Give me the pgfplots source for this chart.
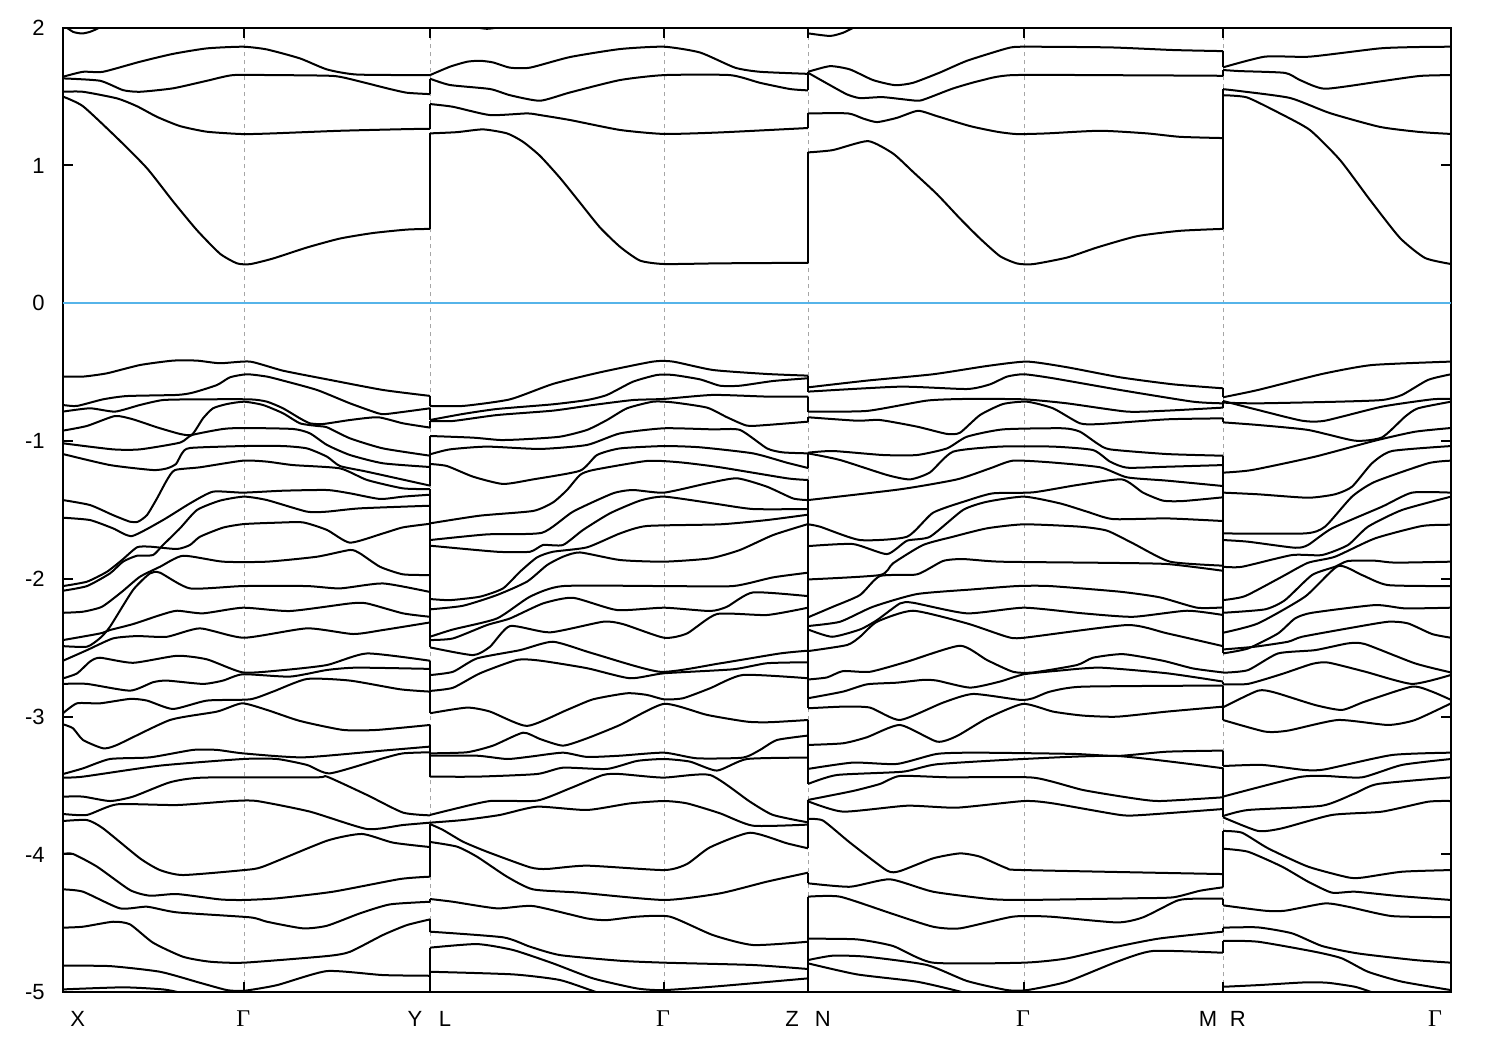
\documentclass[border=0pt]{standalone}
\usepackage{fontspec}
\setmainfont{Liberation Sans}
\newfontfamily\serifgamma{Liberation Serif}
\usepackage{pgfplots}
\pgfplotsset{compat=1.18}
\tikzset{band/.style={black,line width=1pt,line join=round,mark=none,smooth,tension=0.35},
  vjoin/.style={black,line width=1pt,mark=none,sharp plot}}
\newcommand{\G}{{\serifgamma\fontsize{12}{14}\selectfont Γ}}
\begin{document}
\begin{tikzpicture}
\path[use as bounding box] (-31.35pt,-28.85pt) rectangle (718.65pt,496.15pt);
\begin{axis}[
  at={(0pt,0pt)},anchor=south west,
  scale only axis,width=694.15pt,height=482.3pt,
  xmin=62.7,xmax=1451,ymin=-5,ymax=2,
  axis line style={black,line width=1pt},
  xtick={244.3,430,664.3,808.3,1024.3,1223.3},xticklabels={},
  ytick={-5,-4,-3,-2,-1,0,1,2},yticklabels={-5,-4,-3,-2,-1,0,1,2},
  tick align=inside,major tick length=5pt,
  tick style={black,line width=1pt},
  xmajorgrids,
  x grid style={gray!70,line width=0.5pt,dash pattern=on 2pt off 2pt},
  yticklabel style={inner sep=0pt,anchor=east,xshift=-8.8pt,font=\fontsize{11}{13}\selectfont},
  unbounded coords=jump,
  clip=true,
]
\addplot[color={rgb,255:red,86;green,180;blue,233},line width=1pt,mark=none] coordinates {(62.7,0) (1451,0)};
% ---- X - Gamma - Y : conduction
\addplot[band] coordinates {(63,1.50)(83,1.43)(117,1.20)(147,0.98)(173,0.74)(197,0.53)(220,0.36)(237,0.29)(250,0.284)(273,0.325)(307,0.405)(340,0.47)(373,0.51)(407,0.535)(430,0.54)};
\addplot[band] coordinates {(63,1.535)(83,1.535)(117,1.487)(137,1.43)(157,1.353)(180,1.286)(207,1.245)(243,1.228)(273,1.233)(340,1.252)(407,1.264)(430,1.266)};
\addplot[band] coordinates {(63,1.632)(100,1.615)(123,1.547)(140,1.535)(173,1.56)(207,1.615)(233,1.656)(273,1.656)(333,1.65)(357,1.615)(387,1.56)(407,1.528)(430,1.518)};
\addplot[band] coordinates {(63,1.644)(83,1.68)(103,1.68)(140,1.753)(173,1.81)(207,1.85)(243,1.862)(267,1.842)(300,1.777)(327,1.697)(357,1.66)(430,1.656)};
\addplot[band] coordinates {(63,2.02)(73,1.97)(82,1.958)(90,1.97)(98,1.995)(105,2.03)};
% ---- X - Gamma - Y : valence
\addplot[band] coordinates {(63,-.532)(83,-.532)(107,-.508)(140,-.448)(173,-.416)(197,-.416)(220,-.435)(250,-.423)(283,-.489)(330,-.556)(383,-.629)(430,-.672)};
\addplot[band] coordinates {(63,-.738)(77,-.745)(103,-.697)(127,-.673)(177,-.665)(193,-.648)(217,-.593)(230,-.537)(247,-.515)(267,-.532)(283,-.561)(317,-.629)(350,-.726)(378,-.798)(387,-.803)(430,-.762)};
\addplot[band] coordinates {(63,-.786)(90,-.762)(115,-.786)(140,-.738)(163,-.702)(197,-.697)(250,-.697)(267,-.714)(283,-.762)(300,-.835)(310,-.871)(323,-.876)(350,-.847)(378,-.827)(403,-.871)(430,-.902)};
\addplot[band] coordinates {(63,-.924)(87,-.89)(115,-.818)(133,-.842)(157,-.9)(180,-.948)(192,-.953)(203,-.835)(213,-.762)(227,-.731)(244,-.714)(263,-.738)(283,-.798)(300,-.871)(317,-.89)(327,-.9)(350,-.98)(383,-1.053)(430,-1.106)};
\addplot[band] coordinates {(63,-1.016)(113,-1.06)(140,-1.06)(180,-1.011)(192,-.956)(223,-.912)(244,-.905)(293,-.912)(310,-.944)(327,-1.028)(350,-1.101)(383,-1.161)(430,-1.188)};
\addplot[band] coordinates {(63,-1.094)(110,-1.174)(153,-1.21)(167,-1.198)(176,-1.166)(182,-1.089)(190,-1.05)(243,-1.036)(283,-1.036)(307,-1.053)(327,-1.113)(340,-1.181)(367,-1.222)(430,-1.323)};
\addplot[band] coordinates {(63,-1.428)(90,-1.464)(113,-1.537)(130,-1.585)(138,-1.585)(147,-1.537)(157,-1.416)(167,-1.282)(175,-1.21)(200,-1.19)(243,-1.142)(267,-1.149)(293,-1.174)(340,-1.198)(367,-1.282)(403,-1.343)(430,-1.348)};
\addplot[band] coordinates {(63,-1.556)(90,-1.573)(113,-1.633)(132,-1.689)(163,-1.573)(190,-1.452)(213,-1.367)(243,-1.374)(283,-1.36)(327,-1.355)(350,-1.379)(380,-1.42)(403,-1.403)(430,-1.389)};
\addplot[band] coordinates {(63,-2.052)(87,-2.02)(107,-1.948)(122,-1.863)(137,-1.771)(150,-1.766)(177,-1.783)(190,-1.754)(200,-1.694)(223,-1.628)(244,-1.602)(277,-1.592)(303,-1.59)(327,-1.645)(350,-1.737)(383,-1.67)(403,-1.626)(430,-1.6)};
\addplot[band] coordinates {(63,-2.086)(87,-2.052)(110,-1.96)(123,-1.875)(137,-1.832)(153,-1.827)(163,-1.754)(180,-1.633)(197,-1.5)(220,-1.432)(244,-1.403)(267,-1.428)(307,-1.512)(327,-1.512)(360,-1.488)(430,-1.469)};
\addplot[band] coordinates {(63,-2.246)(83,-2.238)(102,-2.202)(122,-2.093)(140,-1.984)(160,-1.912)(183,-1.832)(223,-1.875)(267,-1.875)(317,-1.839)(350,-1.79)(360,-1.815)(380,-1.912)(403,-1.967)(430,-1.972)};
\addplot[band] coordinates {(63,-2.488)(87,-2.492)(100,-2.43)(110,-2.347)(133,-2.081)(150,-1.96)(160,-1.955)(190,-2.069)(243,-2.052)(307,-2.052)(340,-2.069)(383,-2.033)(430,-2.095)};
\addplot[band] coordinates {(63,-2.444)(100,-2.396)(110,-2.371)(133,-2.328)(160,-2.263)(177,-2.231)(203,-2.25)(243,-2.209)(290,-2.233)(350,-2.178)(367,-2.178)(403,-2.25)(430,-2.275)};
\addplot[band] coordinates {(63,-2.594)(87,-2.517)(113,-2.432)(137,-2.415)(167,-2.42)(200,-2.359)(244,-2.427)(307,-2.359)(353,-2.4)(383,-2.371)(430,-2.316)};
\addplot[band] coordinates {(63,-2.722)(77,-2.686)(90,-2.6)(100,-2.572)(133,-2.609)(177,-2.558)(207,-2.584)(243,-2.679)(283,-2.662)(327,-2.625)(367,-2.541)(430,-2.594)};
\addplot[band] coordinates {(63,-2.762)(87,-2.762)(130,-2.811)(153,-2.75)(167,-2.738)(203,-2.762)(223,-2.738)(243,-2.692)(290,-2.709)(327,-2.661)(357,-2.644)(430,-2.653)};
\addplot[band] coordinates {(63,-2.975)(77,-2.903)(100,-2.903)(130,-2.871)(147,-2.883)(173,-2.944)(207,-2.883)(250,-2.874)(273,-2.818)(307,-2.726)(350,-2.738)(400,-2.801)(430,-2.818)};
\addplot[band] coordinates {(63,-3.055)(73,-3.084)(83,-3.169)(103,-3.229)(117,-3.205)(170,-3.024)(217,-2.963)(242,-2.903)(267,-2.951)(300,-3.031)(343,-3.096)(377,-3.096)(430,-3.06)};
\addplot[band] coordinates {(63,-3.416)(83,-3.375)(110,-3.307)(150,-3.295)(193,-3.241)(217,-3.241)(243,-3.266)(303,-3.295)(383,-3.246)(430,-3.217)};
\addplot[band] coordinates {(63,-3.442)(83,-3.435)(160,-3.355)(243,-3.307)(277,-3.307)(307,-3.35)(330,-3.411)(383,-3.302)(403,-3.266)(430,-3.258)};
\addplot[band] coordinates {(63,-3.58)(83,-3.58)(110,-3.612)(133,-3.58)(170,-3.476)(203,-3.442)(317,-3.44)(327,-3.435)(367,-3.568)(403,-3.696)(430,-3.716)};
\addplot[band] coordinates {(63,-3.706)(87,-3.713)(117,-3.636)(177,-3.641)(233,-3.612)(257,-3.612)(310,-3.689)(367,-3.815)(403,-3.786)(430,-3.769)};
\addplot[band] coordinates {(63,-3.757)(87,-3.75)(103,-3.81)(140,-4.028)(160,-4.113)(183,-4.149)(244,-4.113)(263,-4.088)(327,-3.9)(362,-3.851)(393,-3.914)(430,-3.946)};
\addplot[band] coordinates {(63,-3.996)(73,-3.996)(97,-4.088)(130,-4.258)(150,-4.299)(177,-4.287)(220,-4.326)(244,-4.33)(277,-4.318)(333,-4.27)(400,-4.178)(430,-4.161)};
\addplot[band] coordinates {(63,-4.253)(83,-4.27)(120,-4.391)(147,-4.379)(177,-4.42)(250,-4.456)(267,-4.488)(303,-4.536)(327,-4.517)(360,-4.427)(390,-4.362)(430,-4.343)};
\addplot[band] coordinates {(63,-4.531)(83,-4.524)(113,-4.488)(130,-4.507)(153,-4.64)(183,-4.742)(210,-4.778)(244,-4.785)(327,-4.737)(350,-4.706)(383,-4.584)(407,-4.512)(430,-4.471)};
\addplot[band] coordinates {(63,-4.807)(110,-4.81)(160,-4.851)(200,-4.931)(227,-4.984)(244,-4.989)(277,-4.948)(327,-4.846)(383,-4.875)(430,-4.88)};
\addplot[band] coordinates {(63,-4.979)(123,-4.964)(163,-4.979)(183,-5.008)(195,-5.05)};
% ---- L - Gamma - Z : conduction
\addplot[band] coordinates {(430,1.233)(457,1.242)(483,1.262)(507,1.233)(523,1.172)(540,1.07)(560,.91)(580,.73)(600,.55)(620,.41)(640,.31)(664,.285)(720,.29)(808,.294)};
\addplot[band] coordinates {(430,1.446)(453,1.426)(490,1.366)(527,1.378)(540,1.366)(570,1.33)(620,1.258)(664,1.229)(720,1.24)(808,1.272)};
\addplot[band] coordinates {(430,1.63)(450,1.584)(490,1.555)(510,1.51)(540,1.47)(570,1.53)(620,1.62)(664,1.656)(730,1.656)(760,1.60)(790,1.555)(808,1.545)};
\addplot[band] coordinates {(430,1.656)(450,1.717)(467,1.753)(480,1.76)(493,1.748)(510,1.71)(530,1.71)(570,1.787)(620,1.845)(664,1.862)(700,1.82)(735,1.71)(760,1.68)(808,1.665)};
\addplot[band] coordinates {(470,2.01)(487,1.992)(505,2.01)};
% ---- L - Gamma - Z : valence
\addplot[band] coordinates {(430,-.745)(463,-.745)(510,-.697)(553,-.585)(600,-.501)(653,-.423)(673,-.423)(713,-.484)(767,-.513)(808,-.525)};
\addplot[band] coordinates {(430,-.847)(463,-.803)(497,-.767)(553,-.733)(587,-.702)(607,-.665)(633,-.569)(657,-.52)(673,-.52)(700,-.552)(720,-.598)(740,-.598)(773,-.564)(808,-.544)};
\addplot[band] coordinates {(430,-.854)(453,-.854)(497,-.811)(553,-.779)(593,-.738)(633,-.702)(664,-.694)(713,-.665)(767,-.677)(808,-.677)};
\addplot[band] coordinates {(430,-.963)(473,-.975)(500,-.992)(523,-.987)(560,-.968)(587,-.919)(607,-.847)(627,-.762)(653,-.714)(673,-.719)(707,-.757)(727,-.827)(747,-.888)(767,-.883)(808,-.859)};
\addplot[band] coordinates {(430,-1.096)(450,-1.06)(487,-1.04)(540,-1.057)(587,-1.028)(620,-.944)(664,-.907)(713,-.915)(740,-.919)(767,-1.053)(783,-1.082)(808,-1.089)};
\addplot[band] coordinates {(430,-1.166)(447,-1.181)(473,-1.258)(503,-1.311)(533,-1.278)(580,-1.215)(597,-1.101)(620,-1.053)(664,-1.036)(700,-1.045)(753,-1.089)(787,-1.157)(808,-1.195)};
\addplot[band] coordinates {(430,-1.597)(480,-1.541)(533,-1.507)(553,-1.445)(567,-1.355)(580,-1.246)(593,-1.21)(647,-1.144)(680,-1.154)(720,-1.19)(787,-1.27)(808,-1.282)};
\addplot[band] coordinates {(430,-1.718)(487,-1.677)(542,-1.665)(573,-1.512)(613,-1.379)(633,-1.355)(664,-1.374)(707,-1.307)(737,-1.27)(767,-1.331)(793,-1.416)(808,-1.428)};
\addplot[band] coordinates {(430,-1.759)(497,-1.803)(530,-1.803)(543,-1.754)(563,-1.754)(583,-1.645)(610,-1.524)(640,-1.432)(664,-1.403)(713,-1.452)(753,-1.493)(808,-1.493)};
\addplot[band] coordinates {(430,-2.146)(450,-2.154)(480,-2.129)(503,-2.069)(520,-1.948)(537,-1.844)(553,-1.803)(587,-1.771)(620,-1.67)(647,-1.616)(720,-1.604)(767,-1.573)(808,-1.534)};
\addplot[band] coordinates {(430,-2.221)(463,-2.195)(497,-2.117)(527,-2.02)(547,-1.9)(563,-1.839)(580,-1.808)(620,-1.863)(664,-1.875)(710,-1.851)(740,-1.79)(773,-1.682)(808,-1.602)};
\addplot[band] coordinates {(430,-2.42)(453,-2.367)(497,-2.287)(530,-2.129)(563,-2.052)(664,-2.052)(733,-2.052)(773,-1.989)(808,-1.955)};
\addplot[band] coordinates {(430,-2.444)(453,-2.432)(487,-2.335)(510,-2.287)(543,-2.178)(573,-2.137)(617,-2.226)(664,-2.209)(710,-2.233)(727,-2.202)(753,-2.098)(808,-2.125)};
\addplot[band] coordinates {(430,-2.497)(473,-2.553)(490,-2.492)(510,-2.342)(550,-2.388)(603,-2.311)(623,-2.328)(664,-2.427)(687,-2.396)(717,-2.255)(767,-2.262)(808,-2.209)};
\addplot[band] coordinates {(430,-2.698)(453,-2.674)(477,-2.577)(520,-2.517)(553,-2.456)(593,-2.541)(660,-2.674)(720,-2.613)(780,-2.541)(808,-2.521)};
\addplot[band] coordinates {(430,-2.813)(453,-2.79)(480,-2.685)(517,-2.588)(540,-2.593)(587,-2.648)(630,-2.721)(664,-2.685)(733,-2.656)(767,-2.612)(808,-2.605)};
\addplot[band] coordinates {(430,-2.975)(467,-2.934)(490,-2.963)(527,-3.067)(567,-2.951)(593,-2.874)(627,-2.83)(647,-2.842)(664,-2.874)(683,-2.866)(710,-2.794)(743,-2.697)(808,-2.721)};
\addplot[band] coordinates {(430,-3.266)(467,-3.258)(493,-3.21)(523,-3.116)(540,-3.162)(563,-3.21)(587,-3.157)(620,-3.06)(664,-2.907)(707,-2.987)(747,-3.036)(770,-3.04)(808,-3.024)};
\addplot[band] coordinates {(430,-3.283)(477,-3.283)(507,-3.307)(530,-3.29)(563,-3.261)(587,-3.292)(620,-3.283)(664,-3.261)(697,-3.302)(743,-3.297)(760,-3.241)(777,-3.169)(808,-3.137)};
\addplot[band] coordinates {(430,-3.435)(477,-3.435)(537,-3.416)(563,-3.37)(607,-3.379)(637,-3.321)(664,-3.307)(690,-3.326)(717,-3.391)(747,-3.307)(808,-3.297)};
\addplot[band] coordinates {(430,-3.713)(450,-3.677)(490,-3.612)(537,-3.609)(570,-3.52)(603,-3.423)(620,-3.416)(663,-3.442)(710,-3.423)(750,-3.617)(773,-3.713)(808,-3.767)};
\addplot[band] coordinates {(430,-3.769)(463,-3.75)(500,-3.713)(537,-3.653)(587,-3.677)(630,-3.629)(664,-3.612)(687,-3.629)(720,-3.701)(753,-3.791)(808,-3.783)};
\addplot[band] coordinates {(430,-3.779)(443,-3.822)(463,-3.907)(487,-3.98)(530,-4.093)(547,-4.105)(587,-4.081)(664,-4.113)(687,-4.069)(710,-3.948)(750,-3.842)(787,-3.919)(808,-3.955)};
\addplot[band] coordinates {(430,-3.909)(457,-3.943)(477,-4.016)(507,-4.161)(533,-4.253)(580,-4.277)(664,-4.33)(720,-4.282)(767,-4.197)(808,-4.132)};
\addplot[band] coordinates {(430,-4.323)(453,-4.343)(497,-4.391)(533,-4.374)(587,-4.464)(607,-4.476)(637,-4.451)(670,-4.451)(713,-4.585)(753,-4.657)(808,-4.633)};
\addplot[band] coordinates {(430,-4.56)(503,-4.601)(530,-4.669)(560,-4.73)(620,-4.771)(664,-4.785)(753,-4.802)(808,-4.831)};
\addplot[band] coordinates {(430,-4.676)(477,-4.65)(513,-4.693)(553,-4.79)(593,-4.899)(637,-4.972)(664,-4.984)(720,-4.955)(808,-4.899)};
\addplot[band] coordinates {(430,-4.851)(513,-4.87)(560,-4.911)(597,-5.0)(620,-5.04)};
% ---- N - Gamma - M : conduction
\addplot[band] coordinates {(808,1.095)(833,1.112)(868,1.177)(893,1.087)(913,.954)(937,.792)(960,.615)(980,.47)(1000,.342)(1017,.289)(1033,.284)(1067,.332)(1097,.405)(1137,.487)(1180,.526)(1223,.54)};
\addplot[band] coordinates {(808,1.378)(848,1.378)(863,1.341)(877,1.315)(897,1.346)(918,1.397)(937,1.358)(970,1.286)(997,1.245)(1017,1.228)(1047,1.233)(1100,1.252)(1147,1.233)(1180,1.208)(1223,1.199)};
\addplot[band] coordinates {(808,1.673)(830,1.583)(847,1.516)(860,1.489)(883,1.496)(917,1.47)(927,1.487)(953,1.559)(980,1.615)(1013,1.656)(1147,1.654)(1223,1.651)};
\addplot[band] coordinates {(808,1.68)(830,1.721)(850,1.697)(873,1.62)(895,1.583)(913,1.6)(940,1.675)(967,1.76)(1007,1.85)(1023,1.862)(1110,1.857)(1173,1.838)(1223,1.83)};
\addplot[band] coordinates {(808,1.959)(830,1.94)(843,1.963)(852,1.995)(860,2.02)};
% ---- N - Gamma - M : valence
\addplot[band] coordinates {(808,-.61)(867,-.561)(933,-.515)(987,-.455)(1027,-.423)(1067,-.464)(1120,-.537)(1173,-.588)(1223,-.617)};
\addplot[band] coordinates {(808,-.641)(900,-.605)(967,-.622)(990,-.588)(1007,-.532)(1024,-.515)(1053,-.544)(1120,-.629)(1193,-.714)(1223,-.726)};
\addplot[band] coordinates {(808,-.786)(867,-.781)(927,-.706)(967,-.694)(1024,-.697)(1067,-.726)(1127,-.786)(1167,-.779)(1223,-.757)};
\addplot[band] coordinates {(808,-.827)(857,-.852)(880,-.847)(917,-.895)(947,-.948)(960,-.939)(980,-.811)(1003,-.731)(1027,-.714)(1053,-.762)(1080,-.871)(1100,-.876)(1167,-.842)(1223,-.835)};
\addplot[band] coordinates {(808,-1.084)(833,-1.072)(883,-1.101)(917,-1.101)(947,-1.053)(967,-.968)(1003,-.915)(1063,-.907)(1080,-.932)(1097,-1.016)(1110,-1.06)(1167,-1.094)(1223,-1.106)};
\addplot[band] coordinates {(808,-1.089)(840,-1.137)(887,-1.246)(910,-1.278)(930,-1.227)(953,-1.077)(1000,-1.04)(1053,-1.04)(1093,-1.065)(1110,-1.149)(1127,-1.193)(1167,-1.186)(1223,-1.174)};
\addplot[band] coordinates {(808,-1.428)(900,-1.35)(957,-1.278)(990,-1.198)(1013,-1.142)(1050,-1.154)(1100,-1.19)(1127,-1.263)(1167,-1.287)(1223,-1.326)};
\addplot[band] coordinates {(808,-1.604)(820,-1.621)(860,-1.718)(907,-1.694)(933,-1.52)(967,-1.432)(993,-1.379)(1033,-1.372)(1077,-1.319)(1122,-1.278)(1143,-1.374)(1163,-1.432)(1183,-1.435)(1223,-1.408)};
\addplot[band] coordinates {(808,-1.762)(853,-1.747)(887,-1.82)(907,-1.723)(930,-1.694)(963,-1.5)(987,-1.44)(1024,-1.403)(1060,-1.452)(1087,-1.512)(1113,-1.566)(1167,-1.561)(1223,-1.58)};
\addplot[band] coordinates {(808,-2.004)(880,-1.972)(893,-1.887)(923,-1.754)(953,-1.694)(987,-1.633)(1024,-1.604)(1080,-1.621)(1107,-1.65)(1133,-1.742)(1170,-1.875)(1223,-1.904)};
\addplot[band] coordinates {(808,-2.279)(833,-2.202)(860,-2.117)(880,-1.979)(917,-1.967)(943,-1.87)(963,-1.856)(1000,-1.875)(1100,-1.883)(1167,-1.892)(1223,-1.941)};
\addplot[band] coordinates {(808,-2.342)(840,-2.311)(873,-2.202)(917,-2.11)(973,-2.076)(1017,-2.052)(1050,-2.052)(1120,-2.093)(1160,-2.134)(1197,-2.209)(1223,-2.207)};
\addplot[band] coordinates {(808,-2.367)(832,-2.42)(860,-2.367)(877,-2.299)(900,-2.178)(913,-2.173)(967,-2.25)(1024,-2.209)(1083,-2.25)(1133,-2.275)(1187,-2.231)(1223,-2.262)};
\addplot[band] coordinates {(808,-2.524)(847,-2.48)(860,-2.42)(877,-2.311)(913,-2.231)(967,-2.323)(1007,-2.42)(1024,-2.427)(1127,-2.335)(1167,-2.395)(1223,-2.488)};
\addplot[band] coordinates {(808,-2.73)(827,-2.715)(843,-2.669)(870,-2.674)(907,-2.601)(960,-2.485)(987,-2.589)(1013,-2.674)(1033,-2.679)(1077,-2.625)(1093,-2.572)(1123,-2.546)(1163,-2.594)(1193,-2.65)(1223,-2.679)};
\addplot[band] coordinates {(808,-2.866)(843,-2.818)(867,-2.765)(897,-2.753)(923,-2.733)(937,-2.738)(970,-2.789)(1000,-2.745)(1024,-2.692)(1060,-2.665)(1100,-2.644)(1167,-2.685)(1223,-2.745)};
\addplot[band] coordinates {(808,-2.939)(843,-2.927)(870,-2.934)(900,-3.024)(943,-2.898)(973,-2.835)(1020,-2.878)(1033,-2.866)(1050,-2.818)(1083,-2.782)(1223,-2.774)};
\addplot[band] coordinates {(808,-3.205)(843,-3.193)(867,-3.149)(900,-3.06)(937,-3.181)(957,-3.14)(987,-3.012)(1023,-2.907)(1053,-2.963)(1083,-2.992)(1117,-3.0)(1167,-2.963)(1223,-2.927)};
\addplot[band] coordinates {(808,-3.379)(853,-3.333)(897,-3.343)(937,-3.27)(977,-3.261)(1073,-3.27)(1117,-3.285)(1167,-3.254)(1223,-3.246)};
\addplot[band] coordinates {(808,-3.488)(837,-3.423)(903,-3.399)(937,-3.345)(1023,-3.307)(1117,-3.285)(1223,-3.374)};
\addplot[band] coordinates {(808,-3.604)(853,-3.539)(880,-3.488)(900,-3.43)(950,-3.44)(1033,-3.442)(1083,-3.532)(1133,-3.592)(1160,-3.612)(1223,-3.585)};
\addplot[band] coordinates {(808,-3.614)(843,-3.689)(907,-3.646)(957,-3.66)(1024,-3.612)(1053,-3.629)(1120,-3.713)(1143,-3.713)(1223,-3.67)};
\addplot[band] coordinates {(808,-3.742)(823,-3.754)(850,-3.914)(887,-4.117)(900,-4.12)(933,-4.028)(960,-3.992)(980,-4.016)(1007,-4.1)(1024,-4.113)(1223,-4.142)};
\addplot[band] coordinates {(808,-4.209)(850,-4.234)(890,-4.18)(933,-4.27)(990,-4.323)(1024,-4.33)(1133,-4.318)(1173,-4.311)(1200,-4.263)(1223,-4.238)};
\addplot[band] coordinates {(808,-4.306)(840,-4.306)(893,-4.432)(933,-4.524)(960,-4.536)(1013,-4.451)(1050,-4.451)(1117,-4.493)(1143,-4.456)(1177,-4.335)(1193,-4.321)(1223,-4.321)};
\addplot[band] coordinates {(808,-4.611)(857,-4.616)(893,-4.664)(933,-4.785)(1024,-4.785)(1067,-4.754)(1117,-4.669)(1160,-4.609)(1223,-4.56)};
\addplot[band] coordinates {(808,-4.766)(833,-4.734)(867,-4.742)(927,-4.802)(967,-4.918)(1007,-4.984)(1027,-4.984)(1067,-4.923)(1117,-4.778)(1153,-4.7)(1223,-4.713)};
\addplot[band] coordinates {(808,-4.79)(857,-4.87)(917,-4.923)(963,-5.0)(973,-5.03)};
% ---- R - Gamma : conduction
\addplot[band] coordinates {(1223,1.51)(1247,1.494)(1280,1.378)(1310,1.257)(1340,1.04)(1370,.75)(1400,.474)(1425,.329)(1451,.285)};
\addplot[band] coordinates {(1223,1.554)(1240,1.54)(1290,1.49)(1330,1.38)(1380,1.28)(1420,1.243)(1451,1.229)};
\addplot[band] coordinates {(1223,1.693)(1240,1.685)(1285,1.672)(1300,1.62)(1325,1.557)(1380,1.61)(1420,1.65)(1451,1.656)};
\addplot[band] coordinates {(1223,1.712)(1265,1.79)(1310,1.79)(1380,1.85)(1420,1.86)(1451,1.862)};
% ---- R - Gamma : valence
\addplot[band] coordinates {(1223,-.682)(1258,-.629)(1322,-.513)(1372,-.448)(1451,-.423)};
\addplot[band] coordinates {(1223,-.721)(1258,-.726)(1338,-.714)(1382,-.702)(1402,-.665)(1428,-.556)(1451,-.515)};
\addplot[band] coordinates {(1223,-.709)(1258,-.774)(1302,-.852)(1325,-.852)(1382,-.75)(1432,-.697)(1451,-.694)};
\addplot[band] coordinates {(1223,-.864)(1258,-.883)(1308,-.919)(1355,-.997)(1382,-.973)(1405,-.823)(1418,-.762)(1451,-.714)};
\addplot[band] coordinates {(1223,-1.229)(1252,-1.21)(1315,-1.113)(1375,-.997)(1415,-.932)(1451,-.905)};
\addplot[band] coordinates {(1223,-1.374)(1258,-1.386)(1308,-1.411)(1335,-1.386)(1352,-1.331)(1372,-1.161)(1392,-1.072)(1451,-1.036)};
\addplot[band] coordinates {(1223,-1.67)(1305,-1.67)(1325,-1.621)(1352,-1.403)(1375,-1.295)(1428,-1.161)(1451,-1.142)};
\addplot[band] coordinates {(1223,-1.718)(1248,-1.73)(1295,-1.774)(1308,-1.754)(1332,-1.633)(1382,-1.476)(1412,-1.374)(1451,-1.374)};
\addplot[band] coordinates {(1223,-1.912)(1242,-1.912)(1292,-1.827)(1322,-1.827)(1348,-1.754)(1368,-1.621)(1402,-1.5)(1451,-1.403)};
\addplot[band] coordinates {(1223,-2.154)(1245,-2.125)(1282,-1.984)(1308,-1.883)(1335,-1.839)(1375,-1.706)(1422,-1.616)(1451,-1.607)};
\addplot[band] coordinates {(1223,-2.246)(1265,-2.221)(1285,-2.154)(1312,-1.972)(1335,-1.912)(1348,-1.87)(1375,-1.868)(1395,-1.882)(1451,-1.875)};
\addplot[band] coordinates {(1223,-2.391)(1258,-2.323)(1305,-2.129)(1338,-1.907)(1362,-1.972)(1388,-2.045)(1451,-2.052)};
\addplot[band] coordinates {(1223,-2.512)(1255,-2.492)(1288,-2.456)(1302,-2.42)(1348,-2.359)(1388,-2.311)(1408,-2.323)(1432,-2.4)(1451,-2.427)};
\addplot[band] coordinates {(1223,-2.541)(1248,-2.505)(1278,-2.396)(1295,-2.287)(1312,-2.246)(1375,-2.19)(1405,-2.214)(1451,-2.209)};
\addplot[band] coordinates {(1223,-2.681)(1248,-2.662)(1278,-2.541)(1315,-2.517)(1348,-2.468)(1365,-2.473)(1415,-2.613)(1451,-2.679)};
\addplot[band] coordinates {(1223,-2.765)(1248,-2.762)(1282,-2.69)(1312,-2.617)(1328,-2.607)(1365,-2.673)(1412,-2.762)(1451,-2.697)};
\addplot[band] coordinates {(1223,-2.932)(1258,-2.811)(1275,-2.825)(1315,-2.915)(1342,-2.951)(1365,-2.89)(1412,-2.782)(1432,-2.818)(1451,-2.878)};
\addplot[band] coordinates {(1223,-3.024)(1265,-3.108)(1288,-3.101)(1338,-3.024)(1388,-3.06)(1415,-3.024)(1451,-2.903)};
\addplot[band] coordinates {(1223,-3.358)(1262,-3.35)(1305,-3.387)(1325,-3.382)(1392,-3.278)(1451,-3.261)};
\addplot[band] coordinates {(1223,-3.58)(1298,-3.44)(1325,-3.43)(1362,-3.44)(1402,-3.35)(1451,-3.307)};
\addplot[band] coordinates {(1223,-3.721)(1248,-3.677)(1322,-3.646)(1355,-3.556)(1378,-3.488)(1451,-3.44)};
\addplot[band] coordinates {(1223,-3.73)(1258,-3.829)(1282,-3.81)(1332,-3.713)(1382,-3.689)(1428,-3.617)(1451,-3.612)};
\addplot[band] coordinates {(1223,-3.829)(1242,-3.842)(1268,-3.955)(1308,-4.088)(1348,-4.166)(1362,-4.168)(1402,-4.125)(1451,-4.113)};
\addplot[band] coordinates {(1223,-3.958)(1248,-3.98)(1282,-4.088)(1308,-4.197)(1332,-4.277)(1355,-4.27)(1398,-4.301)(1451,-4.33)};
\addplot[band] coordinates {(1223,-4.369)(1265,-4.408)(1285,-4.408)(1325,-4.355)(1348,-4.379)(1392,-4.447)(1451,-4.454)};
\addplot[band] coordinates {(1223,-4.531)(1258,-4.529)(1292,-4.572)(1322,-4.664)(1358,-4.718)(1415,-4.766)(1451,-4.785)};
\addplot[band] coordinates {(1223,-4.626)(1258,-4.633)(1315,-4.706)(1342,-4.754)(1368,-4.851)(1402,-4.923)(1451,-4.984)};
\addplot[band] coordinates {(1223,-4.96)(1258,-4.948)(1305,-4.928)(1328,-4.931)(1355,-4.96)(1372,-5.0)(1378,-5.02)};
% ---- vertical joins between the path sections
\addplot[vjoin] coordinates {(430,.54)(430,1.233)(430,nan)(430,1.266)(430,1.446)(430,nan)(430,1.518)(430,1.63)(430,nan)
(430,-.672)(430,-.745)(430,nan)(430,-.762)(430,-.847)(430,nan)(430,-.854)(430,-.902)(430,nan)(430,-.963)(430,-1.106)(430,nan)(430,-1.096)(430,-1.188)(430,nan)(430,-1.166)(430,-1.323)(430,nan)(430,-1.348)(430,-1.597)(430,nan)(430,-1.389)(430,-1.718)(430,nan)(430,-1.469)(430,-1.759)(430,nan)(430,-1.6)(430,-2.146)(430,nan)(430,-1.972)(430,-2.221)(430,nan)(430,-2.095)(430,-2.42)(430,nan)(430,-2.275)(430,-2.444)(430,nan)(430,-2.316)(430,-2.497)(430,nan)(430,-2.594)(430,-2.698)(430,nan)(430,-2.653)(430,-2.813)(430,nan)(430,-2.818)(430,-2.975)(430,nan)(430,-3.06)(430,-3.266)(430,nan)(430,-3.217)(430,-3.283)(430,nan)(430,-3.258)(430,-3.435)(430,nan)(430,-3.713)(430,-3.716)(430,nan)(430,-3.779)(430,-3.946)(430,nan)(430,-3.909)(430,-4.161)(430,nan)(430,-4.323)(430,-4.343)(430,nan)(430,-4.471)(430,-4.56)(430,nan)(430,-4.676)(430,-4.88)(430,nan)(430,-4.851)(430,-5.2)};
\addplot[vjoin] coordinates {(808,1.665)(808,1.68)(808,nan)(808,1.545)(808,1.673)(808,nan)(808,1.272)(808,1.378)(808,nan)(808,.294)(808,1.095)(808,nan)
(808,-.525)(808,-.61)(808,nan)(808,-.544)(808,-.641)(808,nan)(808,-.677)(808,-.786)(808,nan)(808,-.827)(808,-.859)(808,nan)(808,-1.084)(808,-1.089)(808,nan)(808,-1.089)(808,-1.195)(808,nan)(808,-1.282)(808,-1.428)(808,nan)(808,-1.428)(808,-1.604)(808,nan)(808,-1.493)(808,-1.762)(808,nan)(808,-1.534)(808,-2.004)(808,nan)(808,-1.602)(808,-2.279)(808,nan)(808,-1.955)(808,-2.342)(808,nan)(808,-2.125)(808,-2.367)(808,nan)(808,-2.209)(808,-2.524)(808,nan)(808,-2.521)(808,-2.73)(808,nan)(808,-2.605)(808,-2.866)(808,nan)(808,-2.721)(808,-2.939)(808,nan)(808,-3.024)(808,-3.205)(808,nan)(808,-3.137)(808,-3.379)(808,nan)(808,-3.297)(808,-3.488)(808,nan)(808,-3.604)(808,-3.767)(808,nan)(808,-3.614)(808,-3.783)(808,nan)(808,-3.742)(808,-3.955)(808,nan)(808,-4.132)(808,-4.209)(808,nan)(808,-4.306)(808,-4.633)(808,nan)(808,-4.611)(808,-4.831)(808,nan)(808,-4.766)(808,-4.899)(808,nan)(808,-4.79)(808,-5.2)};
\addplot[vjoin] coordinates {(1223,1.83)(1223,1.712)(1223,nan)(1223,1.651)(1223,1.693)(1223,nan)(1223,1.199)(1223,1.554)(1223,nan)(1223,.54)(1223,1.51)(1223,nan)
(1223,-.617)(1223,-.682)(1223,nan)(1223,-.709)(1223,-.726)(1223,nan)(1223,-.721)(1223,-.757)(1223,nan)(1223,-.835)(1223,-.864)(1223,nan)(1223,-1.106)(1223,-1.229)(1223,nan)(1223,-1.174)(1223,-1.374)(1223,nan)(1223,-1.326)(1223,-1.67)(1223,nan)(1223,-1.408)(1223,-1.718)(1223,nan)(1223,-1.58)(1223,-1.912)(1223,nan)(1223,-1.904)(1223,-2.154)(1223,nan)(1223,-1.941)(1223,-2.246)(1223,nan)(1223,-2.207)(1223,-2.391)(1223,nan)(1223,-2.262)(1223,-2.512)(1223,nan)(1223,-2.488)(1223,-2.541)(1223,nan)(1223,-2.679)(1223,-2.681)(1223,nan)(1223,-2.745)(1223,-2.765)(1223,nan)(1223,-2.774)(1223,-2.932)(1223,nan)(1223,-2.927)(1223,-3.024)(1223,nan)(1223,-3.246)(1223,-3.358)(1223,nan)(1223,-3.374)(1223,-3.58)(1223,nan)(1223,-3.585)(1223,-3.721)(1223,nan)(1223,-3.67)(1223,-3.73)(1223,nan)(1223,-3.829)(1223,-4.142)(1223,nan)(1223,-3.958)(1223,-4.238)(1223,nan)(1223,-4.321)(1223,-4.369)(1223,nan)(1223,-4.531)(1223,-4.56)(1223,nan)(1223,-4.626)(1223,-4.713)(1223,nan)(1223,-4.96)(1223,-5.2)};
\end{axis}
\foreach \px/\lab in {77.7/X,415/Y,445/L,792/Z,822.7/N,1208/M,1237.7/R}{
  \node[anchor=base,inner sep=0pt,font=\fontsize{11}{13}\selectfont] at ({(\px-62.7)*0.5pt},-17.2pt) {\lab};
}
\foreach \px in {243.3,663,1023,1435}{
  \node[anchor=base,inner sep=0pt] at ({(\px-62.7)*0.5pt},-17.2pt) {\G};
}
\end{tikzpicture}
\end{document}
